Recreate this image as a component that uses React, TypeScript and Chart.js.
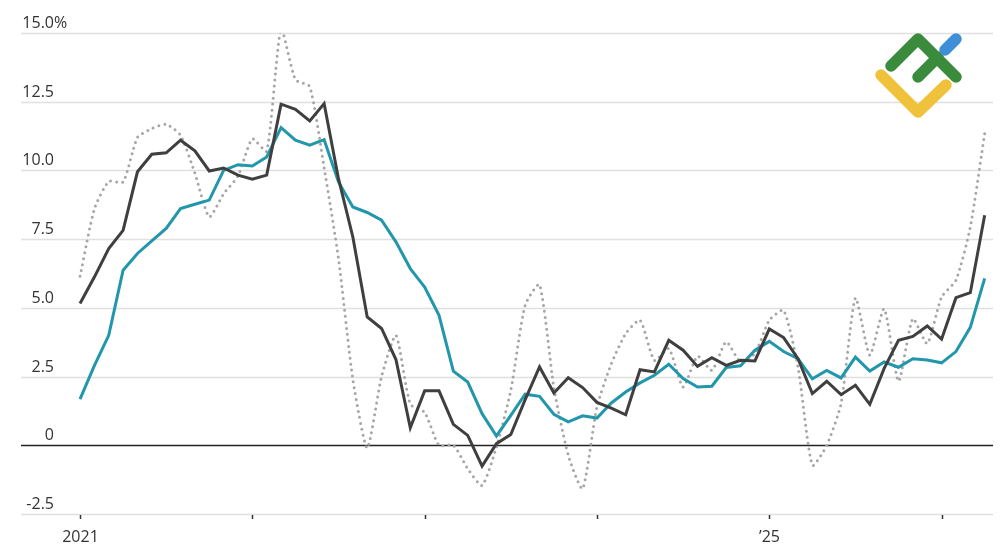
import React, { useEffect, useRef } from "react";
import { Chart, registerables } from "chart.js";

Chart.register(...registerables);

// Monthly observations, Jan 2021 .. Apr 2026
const months: string[] = [
  "2021-01","2021-02","2021-03","2021-04","2021-05","2021-06","2021-07","2021-08","2021-09","2021-10","2021-11","2021-12",
  "2022-01","2022-02","2022-03","2022-04","2022-05","2022-06","2022-07","2022-08","2022-09","2022-10","2022-11","2022-12",
  "2023-01","2023-02","2023-03","2023-04","2023-05","2023-06","2023-07","2023-08","2023-09","2023-10","2023-11","2023-12",
  "2024-01","2024-02","2024-03","2024-04","2024-05","2024-06","2024-07","2024-08","2024-09","2024-10","2024-11","2024-12",
  "2025-01","2025-02","2025-03","2025-04","2025-05","2025-06","2025-07","2025-08","2025-09","2025-10","2025-11","2025-12",
  "2026-01","2026-02","2026-03","2026-04",
];

const darkSeries: number[] = [
  5.16, 6.12, 7.16, 7.82, 9.95, 10.59, 10.64, 11.1, 10.71, 9.98, 10.09, 9.83,
  9.68, 9.83, 12.41, 12.22, 11.8, 12.43, 9.7, 7.58, 4.67, 4.25, 3.12, 0.64,
  1.98, 1.98, 0.76, 0.36, -0.76, 0.06, 0.39, 1.66, 2.85, 1.9, 2.46, 2.1,
  1.56, 1.35, 1.11, 2.75, 2.67, 3.82, 3.46, 2.87, 3.19, 2.91, 3.09, 3.07,
  4.23, 3.92, 3.15, 1.88, 2.33, 1.84, 2.18, 1.49, 2.8, 3.82, 3.96, 4.34,
  3.86, 5.37, 5.55, 8.37,
];

const tealSeries: number[] = [
  1.68, 2.9, 4.0, 6.37, 6.98, 7.44, 7.89, 8.61, 8.77, 8.92, 10.0, 10.21,
  10.16, 10.49, 11.56, 11.1, 10.92, 11.12, 9.58, 8.67, 8.47, 8.19, 7.4, 6.43,
  5.76, 4.73, 2.7, 2.3, 1.15, 0.34, 1.09, 1.86, 1.78, 1.13, 0.85, 1.07,
  0.99, 1.54, 1.94, 2.27, 2.55, 2.95, 2.43, 2.12, 2.15, 2.83, 2.89, 3.46,
  3.78, 3.41, 3.15, 2.42, 2.72, 2.45, 3.21, 2.7, 3.03, 2.84, 3.15, 3.1,
  3.0, 3.41, 4.29, 6.07,
];

const dottedSeries: number[] = [
  6.15, 8.6, 9.6, 9.58, 11.2, 11.52, 11.68, 11.28, 9.9, 8.31, 9.15, 9.8,
  11.15, 10.7, 15.15, 13.3, 13.05, 10.1, 6.8, 2.4, -0.1, 2.5, 4.0, 1.5,
  1.2, 0.0, 0.0, -0.85, -1.46, -0.06, 2.0, 5.1, 5.85, 2.1, -0.36, -1.58,
  1.4, 2.97, 4.06, 4.55, 3.09, 3.52, 2.12, 3.24, 2.73, 3.76, 3.03, 3.34,
  4.55, 4.91, 2.85, -0.73, 0.0, 1.52, 5.36, 3.28, 4.97, 2.33, 4.61, 3.7,
  5.4, 6.0, 7.94, 11.34,
];

const yTicks: number[] = [-2.5, 0, 2.5, 5, 7.5, 10, 12.5, 15];
const yTickLabels: string[] = ["-2.5", "0", "2.5", "5.0", "7.5", "10.0", "12.5", "15.0"];
const xTickMonths: number[] = [0, 12, 24, 36, 48, 60];
const xTickLabels: string[] = ["2021", "", "", "", "\u201925", ""];

const FONT = '16px "Open Sans", "DejaVu Sans", sans-serif';

const toPoints = (vals: number[]) => vals.map((v, i) => ({ x: i, y: v, label: months[i] }));

const axesPlugin = {
  id: "customAxes",
  beforeDatasetsDraw(chart: any) {
    const { ctx, chartArea, scales } = chart;
    const y = scales.y;
    const x = scales.x;
    ctx.save();
    yTicks.forEach((v) => {
      const py = Math.round(y.getPixelForValue(v)) + 0.5;
      ctx.beginPath();
      ctx.moveTo(chartArea.left, py);
      ctx.lineTo(chartArea.right, py);
      ctx.lineWidth = 1.5;
      ctx.strokeStyle = v === 0 ? "#222222" : "#e0e0e0";
      ctx.stroke();
    });
    ctx.font = FONT;
    ctx.fillStyle = "#333333";
    ctx.textBaseline = "alphabetic";
    yTicks.forEach((v, i) => {
      const py = y.getPixelForValue(v) - 5;
      ctx.textAlign = "right";
      ctx.fillText(yTickLabels[i], 54, py);
      if (i === yTicks.length - 1) {
        ctx.textAlign = "left";
        ctx.fillText("%", 54, py);
      }
    });
    xTickMonths.forEach((m, i) => {
      const px = Math.round(x.getPixelForValue(m)) + 0.5;
      ctx.beginPath();
      ctx.moveTo(px, chartArea.bottom + 1);
      ctx.lineTo(px, chartArea.bottom + 5);
      ctx.lineWidth = 1.5;
      ctx.strokeStyle = "#333333";
      ctx.stroke();
      if (xTickLabels[i]) {
        ctx.textAlign = "center";
        ctx.fillText(xTickLabels[i], px, chartArea.bottom + 28);
      }
    });
    ctx.restore();
  },
  afterDraw(chart: any) {
    const ctx = chart.ctx;
    ctx.save();
    ctx.lineCap = "round";
    ctx.lineJoin = "round";
    ctx.lineWidth = 11.5;
    ctx.strokeStyle = "#3a8c3c";
    ctx.beginPath();
    ctx.moveTo(891, 66);
    ctx.lineTo(918, 39);
    ctx.lineTo(956, 77);
    ctx.stroke();
    ctx.beginPath();
    ctx.moveTo(918, 77);
    ctx.lineTo(938, 57);
    ctx.stroke();
    ctx.strokeStyle = "#3e8fd8";
    ctx.beginPath();
    ctx.moveTo(945, 50);
    ctx.lineTo(956, 39);
    ctx.stroke();
    ctx.strokeStyle = "#f0c23c";
    ctx.beginPath();
    ctx.moveTo(881, 75);
    ctx.lineTo(918, 112);
    ctx.lineTo(946, 85);
    ctx.stroke();
    ctx.restore();
  },
};

export default function App() {
  const canvasRef = useRef<HTMLCanvasElement | null>(null);

  useEffect(() => {
    document.body.style.margin = "0";
    const canvas = canvasRef.current;
    if (!canvas) return;
    const chart = new Chart(canvas, {
      type: "line",
      data: {
        datasets: [
          {
            label: "dark",
            data: toPoints(darkSeries),
            borderColor: "#3f3f3f",
            borderWidth: 3,
            pointRadius: 0,
            tension: 0,
            order: 1,
          },
          {
            label: "teal",
            data: toPoints(tealSeries),
            borderColor: "#2296ab",
            borderWidth: 3,
            pointRadius: 0,
            tension: 0,
            order: 2,
          },
          {
            label: "dotted",
            data: toPoints(dottedSeries),
            borderColor: "#a6a6a6",
            borderWidth: 3,
            borderDash: [0, 6],
            borderCapStyle: "round",
            pointRadius: 0,
            tension: 0.2,
            order: 3,
          },
        ],
      },
      options: {
        animation: false,
        responsive: false,
        maintainAspectRatio: false,
        layout: { padding: { left: 21, right: 7, top: 33, bottom: 31 } },
        plugins: { legend: { display: false }, tooltip: { enabled: false } },
        scales: {
          x: { type: "linear", display: false, min: -4.11, max: 63.58 },
          y: { type: "linear", display: false, min: -2.5, max: 15 },
        },
      },
      plugins: [axesPlugin],
    } as any);
    return () => chart.destroy();
  }, []);

  return (
    <div style={{ position: "absolute", left: 0, top: 0, width: 1000, height: 545, background: "#ffffff" }}>
      <canvas ref={canvasRef} width={1000} height={545} style={{ display: "block" }} />
    </div>
  );
}
